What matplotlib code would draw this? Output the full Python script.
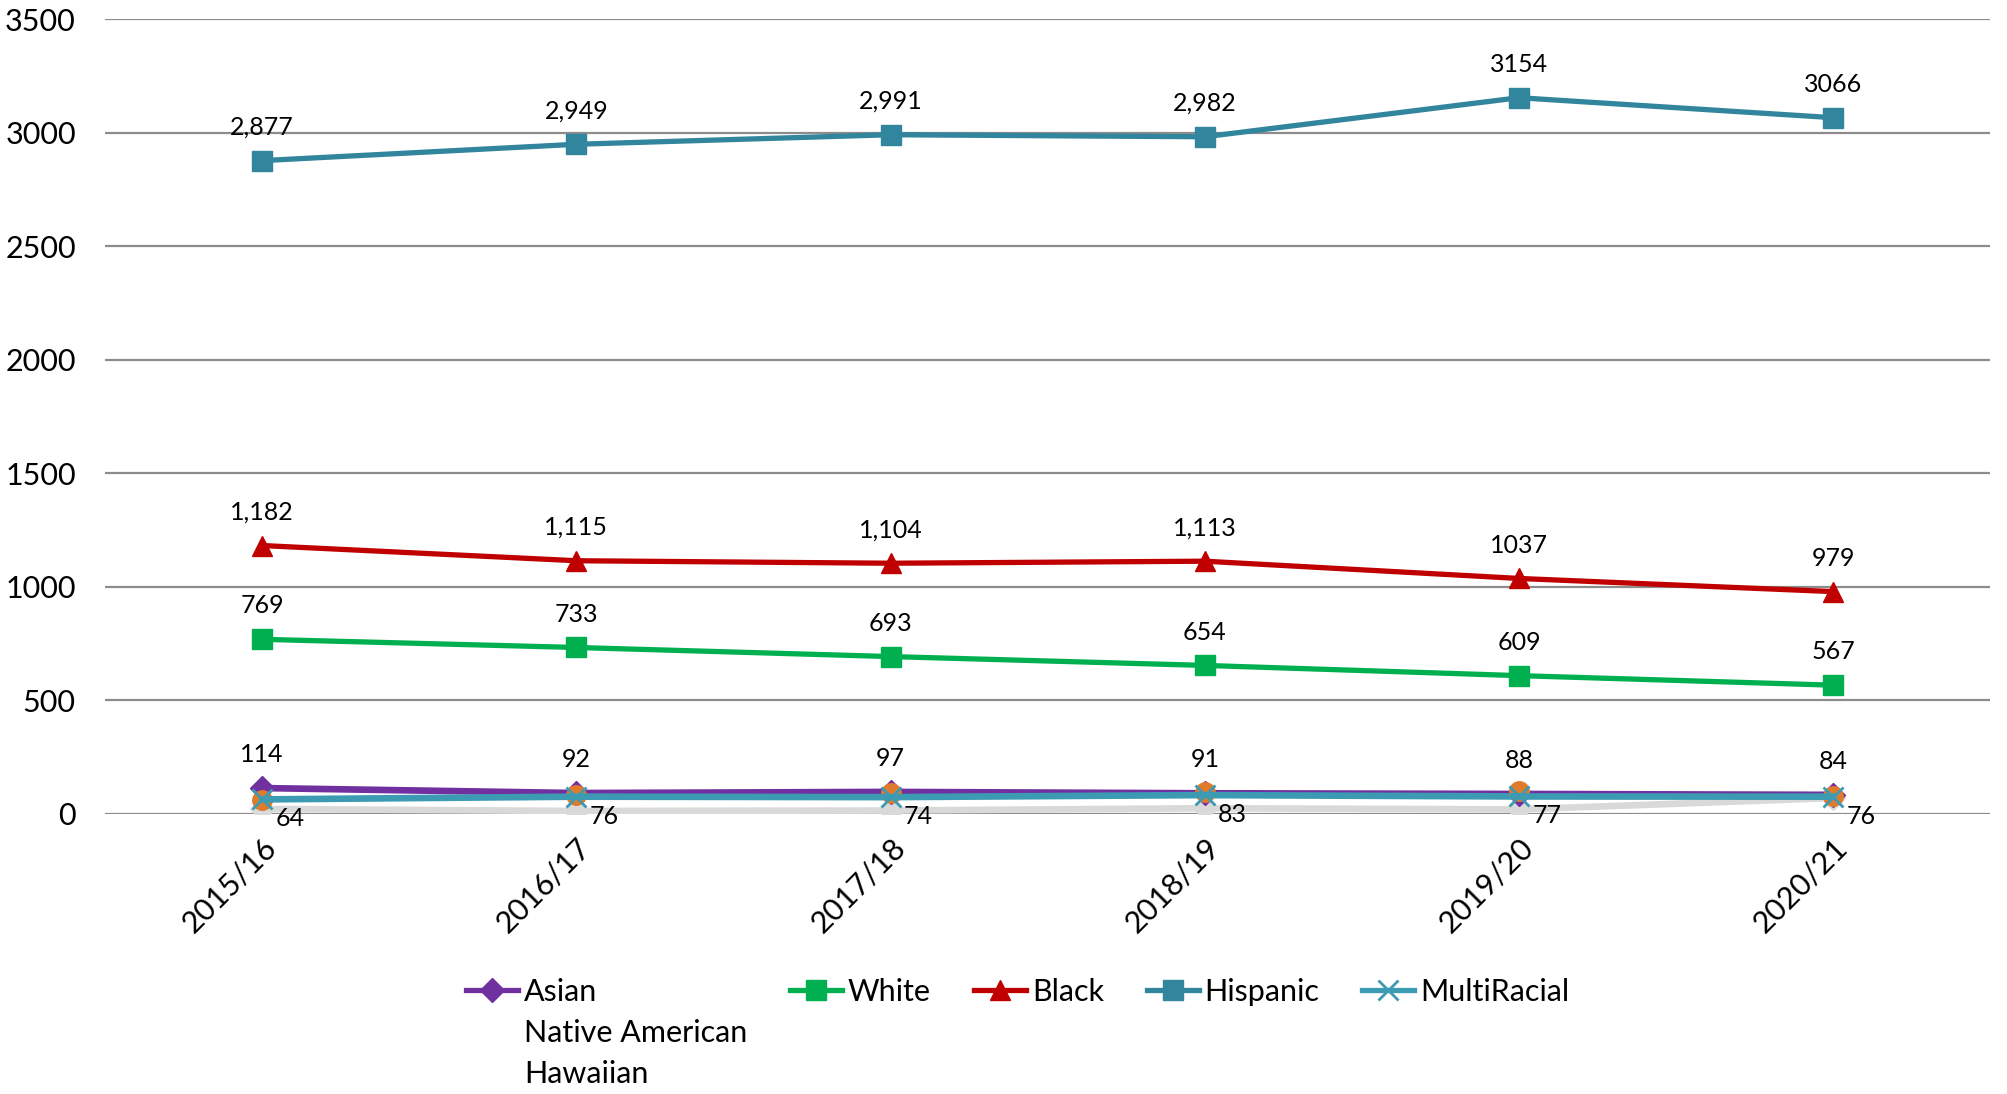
import matplotlib.pyplot as plt
from matplotlib.lines import Line2D

plt.rcParams['font.family'] = ['Lato', 'DejaVu Sans']

years = ['2015/16', '2016/17', '2017/18', '2018/19', '2019/20', '2020/21']

hispanic = [2877, 2949, 2991, 2982, 3154, 3066]
hispanic_labels = ['2,877', '2,949', '2,991', '2,982', '3154', '3066']
black = [1182, 1115, 1104, 1113, 1037, 979]
black_labels = ['1,182', '1,115', '1,104', '1,113', '1037', '979']
white = [769, 733, 693, 654, 609, 567]
asian = [114, 92, 97, 91, 88, 84]
native_american = [60, 85, 90, 95, 100, 80]
hawaiian = [22, 13, 15, 25, 20, 70]
multiracial = [64, 76, 74, 83, 77, 76]

c_hisp = '#31859C'
c_black = '#C00000'
c_white = '#00B050'
c_asian = '#7030A0'
c_nat = '#E07B2C'
c_haw = '#D9D9D9'
c_multi = '#3D9AB3'

fig = plt.figure(figsize=(20.07, 10.94), dpi=100)
ax = fig.add_axes([0.0523, 0.256, 0.9394, 0.7265])

x = list(range(len(years)))
lw = 3.8
ms = 14

ax.plot(x, hawaiian, color=c_haw, lw=lw + 1, marker='D', ms=ms - 2, zorder=2)
ax.plot(x, asian, color=c_asian, lw=lw + 1, marker='D', ms=ms - 2, zorder=3)
ax.plot(x, native_american, color=c_nat, lw=0, marker='o', ms=ms, zorder=3.5)
ax.plot(x, multiracial, color=c_multi, lw=lw + 1, marker='x', ms=ms, mew=2, zorder=4)
ax.plot(x, white, color=c_white, lw=lw, marker='s', ms=ms, zorder=4)
ax.plot(x, black, color=c_black, lw=lw, marker='^', ms=ms + 1, zorder=4)
ax.plot(x, hispanic, color=c_hisp, lw=lw, marker='s', ms=ms, zorder=4)

lab_fs = 18
for i in x:
    ax.annotate(hispanic_labels[i], (i, hispanic[i]), xytext=(0, 24),
                textcoords='offset points', ha='center', va='center', fontsize=lab_fs)
    ax.annotate(black_labels[i], (i, black[i]), xytext=(0, 24),
                textcoords='offset points', ha='center', va='center', fontsize=lab_fs)
    ax.annotate(str(white[i]), (i, white[i]), xytext=(0, 24),
                textcoords='offset points', ha='center', va='center', fontsize=lab_fs)
    ax.annotate(str(asian[i]), (i, asian[i]), xytext=(0, 24),
                textcoords='offset points', ha='center', va='center', fontsize=lab_fs)
    ax.annotate(str(multiracial[i]), (i, multiracial[i]), xytext=(20, -14),
                textcoords='offset points', ha='center', va='center', fontsize=lab_fs)

ax.set_xlim(-0.5, 5.5)
ax.set_ylim(0, 3500)
ax.set_yticks(range(0, 3501, 500))
ax.set_xticks(x)
ax.set_xticklabels(years, rotation=45, ha='right', rotation_mode='anchor', fontsize=22)
ax.tick_params(axis='y', labelsize=22, length=0, pad=21)
ax.tick_params(axis='x', length=0, pad=14)
ax.grid(axis='y', color='#8C8C8C', lw=1.6)
ax.set_axisbelow(True)
for s in ax.spines.values():
    s.set_visible(False)

# legend: Asian column holds the two marker-less entries underneath it
blank = Line2D([], [], linestyle='none')
handles = [
    Line2D([], [], color=c_asian, lw=lw, marker='D', ms=ms - 2), blank, blank,
    Line2D([], [], color=c_white, lw=lw, marker='s', ms=ms), blank, blank,
    Line2D([], [], color=c_black, lw=lw, marker='^', ms=ms + 1), blank, blank,
    Line2D([], [], color=c_hisp, lw=lw, marker='s', ms=ms), blank, blank,
    Line2D([], [], color=c_multi, lw=lw, marker='x', ms=ms, mew=2), blank, blank,
]
labels = ['Asian', 'Native American', 'Hawaiian',
          'White', '', '',
          'Black', '', '',
          'Hispanic', '', '',
          'MultiRacial', '', '']
fig.legend(handles, labels, ncol=5, loc='upper left', bbox_to_anchor=(0.2245, 0.12),
           frameon=False, fontsize=22, handlelength=1.7, handletextpad=0.2,
           columnspacing=1.4, labelspacing=0.42, borderpad=0)

fig.savefig('out.png', dpi=100)
